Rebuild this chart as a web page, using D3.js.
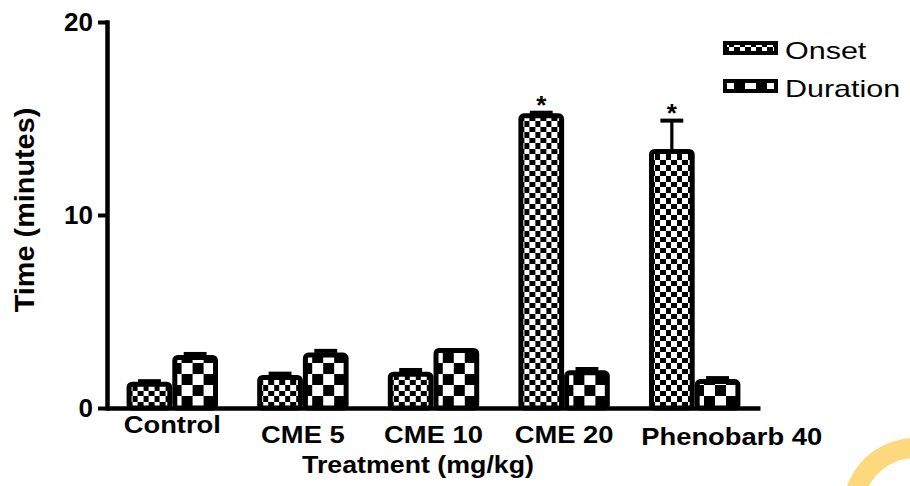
<!DOCTYPE html>
<html>
<head>
<meta charset="utf-8">
<script src="https://cdn.jsdelivr.net/npm/d3@7"></script>
<style>
  body { margin: 0; background: #fff; }
  svg { display: block; }
</style>
</head>
<body>
<script>
// values
var categories = ['Control', 'CME 5', 'CME 10', 'CME 20', 'Phenobarb 40'];
var seriesNames = ['Onset', 'Duration'];
var onsetMean = [1.36, 1.71, 1.88, 15.27, 13.42];
var onsetErr = [0.03, 0.07, 0.09, 0.03, 1.47];
var durationMean = [2.75, 2.87, 3.11, 1.95, 1.5];
var durationErr = [0.05, 0.09, 0, 0.07, 0.05];
var onsetMark = ['', '', '', '*', '*'];
var yTicks = [0, 10, 20];

var W = 910, H = 486, font = 'Arial, "Liberation Sans", sans-serif';

var svg = d3.select('body').append('svg')
    .attr('width', W)
    .attr('height', H)
    .style('background', '#fff');

//patterns: fine checks for onset, coarse checks for duration
var defs = svg.append('defs');
function checker(id, cell) {
    var p = defs.append('pattern')
        .attr('id', id)
        .attr('patternUnits', 'userSpaceOnUse')
        .attr('width', cell * 2)
        .attr('height', cell * 2);
    p.append('rect').attr('width', cell * 2).attr('height', cell * 2).attr('fill', '#fff');
    p.append('rect').attr('x', cell).attr('width', cell).attr('height', cell)
        .attr('fill', '#000').attr('shape-rendering', 'crispEdges');
    p.append('rect').attr('y', cell).attr('width', cell).attr('height', cell)
        .attr('fill', '#000').attr('shape-rendering', 'crispEdges');
}
checker('pat-onset', 5.5);
checker('pat-duration', 11);
var fills = ['url(#pat-onset)', 'url(#pat-duration)'];

//scales
var yscale = d3.scaleLinear().domain([0, 20]).range([408, 22]);
var x0 = d3.scaleBand().domain(categories).range([107, 760])
    .paddingInner(0.3).paddingOuter(0.15);
var x1 = d3.scaleBand().domain(seriesNames).range([0, x0.bandwidth()]);

//stretch text horizontally like the original export
function stretch(sel, factor) {
    sel.each(function () {
        var w = this.getComputedTextLength();
        d3.select(this).attr('textLength', w * factor).attr('lengthAdjust', 'spacingAndGlyphs');
    });
}

//bars
var rows = categories.map(function (c, i) {
    return [
        { cat: c, s: 0, v: onsetMean[i], e: onsetErr[i], mark: onsetMark[i] },
        { cat: c, s: 1, v: durationMean[i], e: durationErr[i], mark: '' }
    ];
});

var groups = svg.selectAll('g.grp')
    .data(rows)
    .enter().append('g')
    .attr('class', 'grp')
    .attr('transform', function (d) { return 'translate(' + x0(d[0].cat) + ',0)'; });

var sw = 5;
var bars = groups.selectAll('g.bar')
    .data(function (d) { return d; })
    .enter().append('g')
    .attr('class', 'bar');

bars.append('rect')
    .attr('x', function (d) { return x1(seriesNames[d.s]) + sw / 2; })
    .attr('y', function (d) { return yscale(d.v) + sw / 2; })
    .attr('width', x1.bandwidth() - sw)
    .attr('height', function (d) { return yscale(0) - yscale(d.v) - sw / 2; })
    .attr('rx', 3)
    .attr('fill', function (d) { return fills[d.s]; })
    .attr('stroke', '#000')
    .attr('stroke-width', sw);

//error bars (upper only)
var errs = bars.filter(function (d) { return d.e > 0; });
errs.append('rect')
    .attr('x', function (d) { return x1(seriesNames[d.s]) + x1.bandwidth() / 2 - 1.6; })
    .attr('y', function (d) { return yscale(d.v + d.e); })
    .attr('width', 3.2)
    .attr('height', function (d) { return yscale(d.v) - yscale(d.v + d.e) + 1; })
    .attr('fill', '#000');
errs.append('rect')
    .attr('x', function (d) { return x1(seriesNames[d.s]) + x1.bandwidth() / 4; })
    .attr('y', function (d) { return yscale(d.v + d.e) - 2; })
    .attr('width', x1.bandwidth() / 2)
    .attr('height', 4)
    .attr('fill', '#000');

//significance marks
bars.filter(function (d) { return d.mark; })
    .append('text')
    .attr('x', function (d) { return x1(seriesNames[d.s]) + x1.bandwidth() / 2; })
    .attr('y', function (d) { return yscale(d.v + d.e) + 1; })
    .attr('text-anchor', 'middle')
    .attr('font-family', font)
    .attr('font-weight', 'bold')
    .attr('font-size', '26px')
    .text(function (d) { return d.mark; });

//y axis
var yaxis = svg.append('g')
    .attr('transform', 'translate(107,0)')
    .call(d3.axisLeft(yscale).tickValues(yTicks).tickSize(9).tickSizeOuter(0).tickPadding(5)
        .tickFormat(d3.format('d')));
yaxis.select('.domain').attr('stroke-width', 4.5).attr('stroke-linecap', 'square');
yaxis.selectAll('.tick line').attr('stroke-width', 4);
yaxis.selectAll('.tick text')
    .attr('font-family', font)
    .attr('font-weight', 'bold')
    .attr('font-size', '26px')
    .attr('fill', '#000')
    .attr('dy', '0.34em');

//x axis; first label sits higher and the last one is pushed right, as in the original
var last = categories.length - 1;
var xaxis = svg.append('g')
    .attr('transform', 'translate(0,408)')
    .call(d3.axisBottom(x0).tickSize(0).tickSizeOuter(0).tickPadding(0));
xaxis.select('.domain').attr('stroke-width', 4.5);
xaxis.selectAll('.tick text')
    .attr('font-family', font)
    .attr('font-weight', 'bold')
    .attr('font-size', '24px')
    .attr('fill', '#000')
    .attr('dy', 0)
    .attr('x', function (d, i) { return i === last ? 37 : 0; })
    .attr('y', function (d, i) { return i === 0 ? 25 : (i === last ? 37 : 35); })
    .call(stretch, 1.14);

//axis titles
svg.append('text')
    .attr('transform', 'translate(34,210) rotate(-90)')
    .attr('text-anchor', 'middle')
    .attr('font-family', font)
    .attr('font-weight', 'bold')
    .attr('font-size', '28px')
    .text('Time (minutes)')
    .call(stretch, 1.03);

svg.append('text')
    .attr('x', 418)
    .attr('y', 473)
    .attr('text-anchor', 'middle')
    .attr('font-family', font)
    .attr('font-weight', 'bold')
    .attr('font-size', '24px')
    .text('Treatment (mg/kg)')
    .call(stretch, 1.115);

//legend
var legend = svg.selectAll('g.legend')
    .data(seriesNames)
    .enter().append('g')
    .attr('class', 'legend')
    .attr('transform', function (d, i) { return 'translate(723,' + (41 + i * 38) + ')'; });
legend.append('rect')
    .attr('x', 2)
    .attr('y', 2)
    .attr('width', 51)
    .attr('height', 10)
    .attr('fill', function (d, i) { return fills[i]; })
    .attr('stroke', '#000')
    .attr('stroke-width', 4);
legend.append('text')
    .attr('x', 62)
    .attr('y', 18)
    .attr('font-family', font)
    .attr('font-size', '24px')
    .text(function (d) { return d; })
    .call(stretch, 1.27);

//yellow mark in the lower right corner
svg.append('path')
    .attr('transform', 'translate(915,510)')
    .attr('d', d3.arc().innerRadius(52).outerRadius(72).startAngle(-Math.PI / 2).endAngle(0.3)())
    .attr('fill', '#fdd87c');
</script>
</body>
</html>
